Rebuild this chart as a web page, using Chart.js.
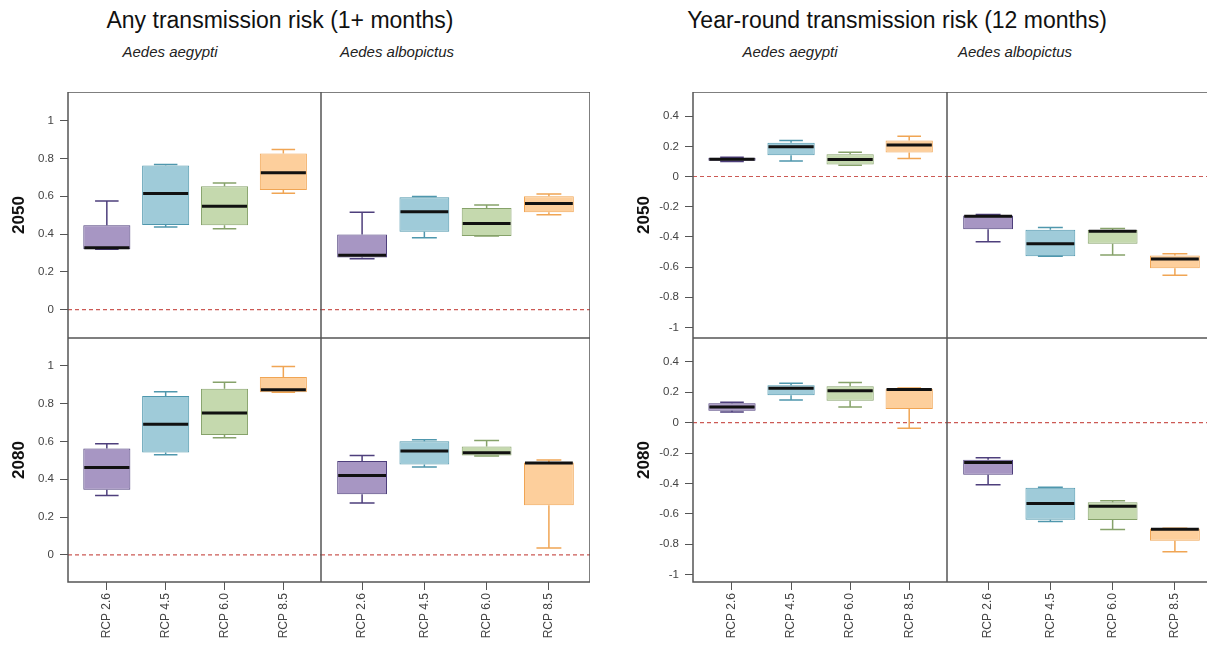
<!DOCTYPE html>
<html lang="en">
<head>
<meta charset="UTF-8">
<title>Transmission risk box plots</title>
<script src="https://cdn.jsdelivr.net/npm/chart.js"></script>
<style>
body {
  margin: 0;
  width: 1207px;
  height: 645px;
  overflow: hidden;
  background: #fff;
  font-family: 'Liberation Sans', Arial, sans-serif;
}
#page { position: relative; width: 1207px; height: 645px; }
canvas { position: absolute; }
.title {
  position: absolute;
  top: 7px;
  font-size: 23px;
  color: #111;
  transform: translateX(-50%);
  white-space: nowrap;
}
.species {
  position: absolute;
  top: 43px;
  font-size: 15px;
  font-style: italic;
  color: #222;
  transform: translateX(-50%);
  white-space: nowrap;
}
</style>
</head>
<body>
<div id="page">
  <div class="title" style="left:280px">Any transmission risk (1+ months)</div>
  <div class="title" style="left:897px">Year-round transmission risk (12 months)</div>
  <div class="species" style="left:170px">Aedes aegypti</div>
  <div class="species" style="left:397px">Aedes albopictus</div>
  <div class="species" style="left:790px">Aedes aegypti</div>
  <div class="species" style="left:1015px">Aedes albopictus</div>
</div>
<script>
// categories and tick labels
const rcpLabels = ['RCP 2.6', 'RCP 4.5', 'RCP 6.0', 'RCP 8.5'];
const rcpPos = [1, 2, 3, 4];
const anyTicks = [0, 0.2, 0.4, 0.6, 0.8, 1];
const yearTicks = [-1, -0.8, -0.6, -0.4, -0.2, 0, 0.2, 0.4];

// box stats per RCP: [min, q1, median, q3, max]
const anyAegypti2050 = [[0.32, 0.32, 0.327, 0.446, 0.575], [0.437, 0.448, 0.614, 0.762, 0.768], [0.428, 0.446, 0.547, 0.653, 0.67], [0.615, 0.633, 0.724, 0.826, 0.847]];
const anyAlbopictus2050 = [[0.269, 0.276, 0.287, 0.398, 0.515], [0.38, 0.412, 0.518, 0.594, 0.598], [0.389, 0.389, 0.455, 0.538, 0.554], [0.502, 0.515, 0.561, 0.6, 0.612]];
const anyAegypti2080 = [[0.314, 0.344, 0.462, 0.562, 0.587], [0.529, 0.541, 0.69, 0.84, 0.862], [0.619, 0.633, 0.75, 0.878, 0.912], [0.859, 0.859, 0.873, 0.94, 0.996]];
const anyAlbopictus2080 = [[0.274, 0.321, 0.42, 0.496, 0.525], [0.464, 0.478, 0.549, 0.601, 0.608], [0.523, 0.525, 0.54, 0.573, 0.605], [0.037, 0.263, 0.485, 0.488, 0.501]];
const yearAegypti2050 = [[0.1, 0.105, 0.115, 0.125, 0.128], [0.102, 0.141, 0.197, 0.223, 0.239], [0.075, 0.08, 0.113, 0.148, 0.161], [0.119, 0.159, 0.208, 0.239, 0.267]];
const yearAlbopictus2050 = [[-0.432, -0.35, -0.263, -0.259, -0.252], [-0.529, -0.529, -0.445, -0.352, -0.338], [-0.52, -0.445, -0.363, -0.354, -0.345], [-0.655, -0.608, -0.546, -0.524, -0.511]];
const yearAegypti2080 = [[0.071, 0.079, 0.104, 0.128, 0.135], [0.15, 0.181, 0.227, 0.247, 0.26], [0.104, 0.145, 0.211, 0.24, 0.264], [-0.037, 0.09, 0.218, 0.224, 0.229]];
const yearAlbopictus2080 = [[-0.409, -0.343, -0.262, -0.244, -0.231], [-0.651, -0.64, -0.532, -0.429, -0.425], [-0.704, -0.642, -0.55, -0.524, -0.515], [-0.851, -0.778, -0.702, -0.698, -0.696]];

const fills = ['#a796c3', '#9fcbd9', '#c5d9ae', '#fdcf9c'];
const edges = ['#4e3f7c', '#4f97ad', '#86a26a', '#f0a554'];

Chart.defaults.font.family = "'Liberation Sans', Arial, sans-serif";
Chart.defaults.color = '#444';

const AXW = 60, AXH = 63;

const framePlugin = {
  id: 'frame',
  beforeDatasetsDraw(chart) {
    const {ctx, chartArea: a, scales: {y}} = chart;
    const y0 = y.getPixelForValue(0);
    ctx.save();
    ctx.strokeStyle = '#cc5a55';
    ctx.lineWidth = 1.2;
    ctx.setLineDash([4, 3]);
    ctx.beginPath();
    ctx.moveTo(a.left, y0);
    ctx.lineTo(a.right, y0);
    ctx.stroke();
    ctx.restore();
  },
  afterDraw(chart) {
    const {ctx, chartArea: a} = chart;
    ctx.save();
    ctx.strokeStyle = '#555';
    ctx.lineWidth = 1.5;
    ctx.strokeRect(a.left, a.top, a.right - a.left, a.bottom - a.top);
    ctx.restore();
  }
};

// whiskers, caps and median drawn on top of the floating bars
const boxPlugin = {
  id: 'boxParts',
  afterDatasetsDraw(chart) {
    const {ctx, scales: {x, y}} = chart;
    const ds = chart.data.datasets[0];
    const bars = chart.getDatasetMeta(0).data;
    ctx.save();
    ds.stats.forEach((s, i) => {
      const cx = x.getPixelForValue(rcpPos[i]);
      const w = bars[i].width;
      const [mn, q1, md, q3, mx] = s.map(v => y.getPixelForValue(v));
      ctx.strokeStyle = edges[i];
      ctx.lineWidth = 1.5;
      ctx.beginPath();
      ctx.moveTo(cx, q3); ctx.lineTo(cx, mx);
      ctx.moveTo(cx, q1); ctx.lineTo(cx, mn);
      ctx.moveTo(cx - w / 4, mx); ctx.lineTo(cx + w / 4, mx);
      ctx.moveTo(cx - w / 4, mn); ctx.lineTo(cx + w / 4, mn);
      ctx.stroke();
      ctx.strokeStyle = '#111';
      ctx.lineWidth = 3;
      ctx.beginPath();
      ctx.moveTo(cx - w / 2 + 1, md); ctx.lineTo(cx + w / 2 - 1, md);
      ctx.stroke();
    });
    ctx.restore();
  }
};

const fmt = v => String(+v.toFixed(2));

function makePanel(p) {
  const canvas = document.createElement('canvas');
  const left = p.yAxis ? p.left - AXW : p.left;
  const w = p.w + (p.yAxis ? AXW : 0);
  const h = p.h + (p.xAxis ? AXH : 0);
  canvas.width = w; canvas.height = h;
  canvas.style.left = left + 'px';
  canvas.style.top = p.top + 'px';
  canvas.style.width = w + 'px';
  canvas.style.height = h + 'px';
  document.getElementById('page').appendChild(canvas);

  new Chart(canvas, {
    type: 'bar',
    data: {
      datasets: [{
        data: p.stats.map((s, i) => ({x: rcpPos[i], y: [s[1], s[3]]})),
        stats: p.stats,
        backgroundColor: fills,
        borderColor: edges,
        borderWidth: 1,
        borderSkipped: false,
        categoryPercentage: 1,
        barPercentage: 0.8
      }]
    },
    options: {
      responsive: false,
      animation: false,
      devicePixelRatio: 1,
      layout: {padding: 0},
      plugins: {legend: {display: false}, tooltip: {enabled: false}},
      scales: {
        x: {
          type: 'linear',
          min: p.xMin, max: p.xMax,
          bounds: 'data',
          offset: false,
          display: p.xAxis,
          afterBuildTicks: s => { s.ticks = rcpPos.map(v => ({value: v})); },
          afterFit: s => { if (p.xAxis) { s.height = AXH; s.paddingLeft = 0; s.paddingRight = 0; } },
          grid: {offset: false, drawOnChartArea: false, drawTicks: true, tickLength: 8, color: '#555'},
          border: {display: false},
          ticks: {
            autoSkip: false, minRotation: 90, maxRotation: 90, padding: 3,
            font: {size: 12}, color: '#444',
            callback: (v, i) => rcpLabels[i]
          }
        },
        y: {
          type: 'linear',
          min: p.yMin, max: p.yMax,
          bounds: 'data',
          display: p.yAxis,
          afterBuildTicks: s => { s.ticks = p.ticks.map(v => ({value: v})); },
          afterFit: s => { if (p.yAxis) { s.width = AXW; s.paddingTop = 0; s.paddingBottom = 0; } },
          grid: {drawOnChartArea: false, drawTicks: true, tickLength: 8, color: '#555'},
          border: {display: false},
          ticks: {padding: 6, font: {size: 11.5}, color: '#444', callback: v => fmt(v)},
          title: {
            display: !!p.rowTitle, text: p.rowTitle, color: '#111',
            font: {size: 17, weight: 'bold'}, padding: {top: 1, bottom: 0}
          }
        }
      }
    },
    plugins: [framePlugin, boxPlugin]
  });
}

function createCharts() {
  // left block: any transmission risk
  makePanel({left: 68, top: 92, w: 253, h: 246, yAxis: true, xAxis: false, xMin: 0.34, xMax: 4.64,
    yMin: -0.15, yMax: 1.151, ticks: anyTicks, stats: anyAegypti2050, rowTitle: '2050'});
  makePanel({left: 321, top: 92, w: 269, h: 246, yAxis: false, xAxis: false, xMin: 0.34, xMax: 4.66,
    yMin: -0.15, yMax: 1.151, ticks: anyTicks, stats: anyAlbopictus2050});
  makePanel({left: 68, top: 338, w: 253, h: 244, yAxis: true, xAxis: true, xMin: 0.34, xMax: 4.64,
    yMin: -0.143, yMax: 1.146, ticks: anyTicks, stats: anyAegypti2080, rowTitle: '2080'});
  makePanel({left: 321, top: 338, w: 269, h: 244, yAxis: false, xAxis: true, xMin: 0.34, xMax: 4.66,
    yMin: -0.143, yMax: 1.146, ticks: anyTicks, stats: anyAlbopictus2080});

  // right block: year-round transmission risk
  makePanel({left: 693, top: 92, w: 254, h: 246, yAxis: true, xAxis: false, xMin: 0.34, xMax: 4.64,
    yMin: -1.07, yMax: 0.56, ticks: yearTicks, stats: yearAegypti2050, rowTitle: '2050'});
  makePanel({left: 947, top: 92, w: 269, h: 246, yAxis: false, xAxis: false, xMin: 0.34, xMax: 4.66,
    yMin: -1.07, yMax: 0.56, ticks: yearTicks, stats: yearAlbopictus2050});
  makePanel({left: 693, top: 338, w: 254, h: 244, yAxis: true, xAxis: true, xMin: 0.34, xMax: 4.64,
    yMin: -1.05, yMax: 0.558, ticks: yearTicks, stats: yearAegypti2080, rowTitle: '2080'});
  makePanel({left: 947, top: 338, w: 269, h: 244, yAxis: false, xAxis: true, xMin: 0.34, xMax: 4.66,
    yMin: -1.05, yMax: 0.558, ticks: yearTicks, stats: yearAlbopictus2080});
}

if (document.readyState === 'loading') {
  document.addEventListener('DOMContentLoaded', createCharts);
} else {
  createCharts();
}
</script>
</body>
</html>
